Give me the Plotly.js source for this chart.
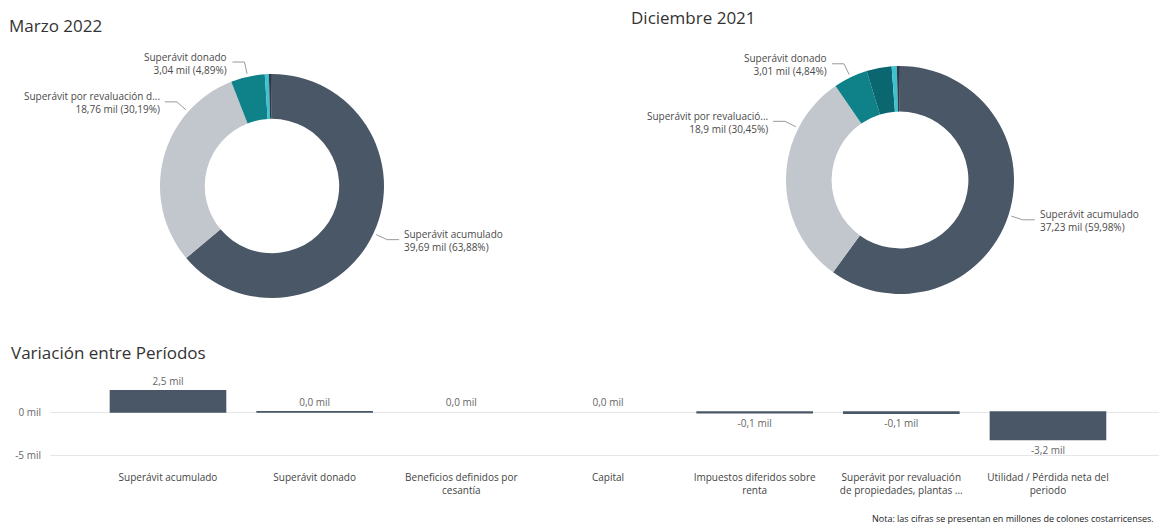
<!DOCTYPE html>
<html>
<head>
<meta charset="utf-8">
<script src="https://cdn.plot.ly/plotly-3.0.1.min.js"></script>
<style>
html,body{margin:0;padding:0;background:#ffffff;}
#chart{width:1159px;height:525px;}
</style>
</head>
<body>
<div id="chart"></div>
<script>
// ---------- DATA ----------
const categorias = [
  "Superávit acumulado",
  "Superávit donado",
  "Beneficios definidos por cesantía",
  "Capital",
  "Impuestos diferidos sobre renta",
  "Superávit por revaluación de propiedades, plantas y equipos",
  "Utilidad / Pérdida neta del periodo"
];
const ejeEtiquetas = [
  "Superávit acumulado",
  "Superávit donado",
  "Beneficios definidos por<br>cesantía",
  "Capital",
  "Impuestos diferidos sobre<br>renta",
  "Superávit por revaluación<br>de propiedades, plantas ...",
  "Utilidad / Pérdida neta del<br>periodo"
];
const marzo2022     = [39.69, 3.04, 0.08, 0.20, 0.36, 18.76, -1.00];
const diciembre2021 = [37.23, 3.006, 0.08, 0.20, 0.45, 18.90, 2.204];
const variacion     = [2.46, 0.03, 0.00, 0.00, -0.09, -0.14, -3.20];
const ejeYValores   = [0, -5];
const ejeYTextos    = ["0 mil", "-5 mil"];
const etiquetaMarzo = ["Superávit acumulado", "Superávit donado", "", "", "", "Superávit por revaluación d...", ""];
const etiquetaDic   = ["Superávit acumulado", "Superávit donado", "", "", "", "Superávit por revaluació...", ""];
const colores = ["#4A5767", "#0F8189", "#2E3A48", "#2F3947", "#3EC2D0", "#C2C7CE", "#0A6770"];

// ---------- LAYOUT HELPERS ----------
const W = 1159, H = 525;
const px = x => x / W;
const py = y => 1 - y / H;
const FONT = "Segoe UI, Open Sans, sans-serif";

function fmtNum(v) {
  let s = v.toFixed(2);
  s = s.replace(/0+$/, "").replace(/\.$/, "");
  return s.replace(".", ",");
}
function fmtPct(p) { return p.toFixed(2).replace(".", ",") + "%"; }

const shapes = [];
const annotations = [];
const traces = [];

function addDonut(values, names, cx, cy, r, fracs) {
  const idx = [];
  values.forEach((v, i) => { if (v > 0) idx.push(i); });
  const total = idx.reduce((s, i) => s + values[i], 0);
  traces.push({
    type: "pie",
    labels: idx.map(i => categorias[i]),
    values: idx.map(i => values[i]),
    marker: { colors: idx.map(i => colores[i]), line: { width: 0 } },
    hole: 0.6,
    sort: true,
    direction: "clockwise",
    rotation: 0,
    textinfo: "none",
    hoverinfo: "label+value+percent",
    showlegend: false,
    domain: { x: [px(cx - r), px(cx + r)], y: [py(cy + r), py(cy - r)] }
  });
  const order = idx.slice().sort((a, b) => values[b] - values[a]);
  let acc = 0;
  order.forEach(i => {
    const a0 = acc / total * 360;
    acc += values[i];
    const a1 = acc / total * 360;
    if (!names[i]) return;
    const f = fracs[i] !== undefined ? fracs[i] : 0.5;
    const th = (a0 + f * (a1 - a0)) * Math.PI / 180;
    const sx = Math.sin(th), sy = -Math.cos(th);
    const P = [cx + (r + 3) * sx, cy + (r + 3) * sy];
    const E = [P[0] + 12 * sx, P[1] + 12 * sy];
    const side = sx >= 0 ? 1 : -1;
    const Hx = E[0] + side * 12;
    shapes.push({
      type: "path", xref: "paper", yref: "paper",
      path: `M${px(P[0])},${py(P[1])} L${px(E[0])},${py(E[1])} L${px(Hx)},${py(E[1])}`,
      line: { color: "#9A9A9A", width: 1 }
    });
    annotations.push({
      xref: "paper", yref: "paper",
      x: px(Hx + side * 3), y: py(E[1] + 1),
      xanchor: side > 0 ? "left" : "right", yanchor: "middle",
      align: side > 0 ? "left" : "right",
      showarrow: false,
      text: names[i] + "<br>" + fmtNum(values[i]) + " mil (" + fmtPct(values[i] / total * 100) + ")",
      font: { family: FONT, size: 10, color: "#4A4A4A" }
    });
  });
}

addDonut(marzo2022, etiquetaMarzo, 272, 186, 112, { 5: 0.75 });
addDonut(diciembre2021, etiquetaDic, 900, 180, 114, { 5: 0.74 });

// ---------- BAR CHART ----------
traces.push({
  type: "bar",
  x: categorias,
  y: variacion,
  marker: {
    color: "#4A5767",
    line: { color: "#4A5767", width: variacion.map(v => v !== 0 ? 1.5 : 0) }
  },
  texttemplate: "%{y:.1f} mil",
  textposition: "outside",
  cliponaxis: false,
  textfont: { family: FONT, size: 10, color: "#666666" },
  hoverinfo: "x+y",
  showlegend: false
});

annotations.push(
  { xref: "paper", yref: "paper", x: px(7), y: py(25), xanchor: "left", yanchor: "middle",
    showarrow: false, text: "Marzo 2022", font: { family: FONT, size: 17, color: "#333333" } },
  { xref: "paper", yref: "paper", x: px(629), y: py(18), xanchor: "left", yanchor: "middle",
    showarrow: false, text: "Diciembre 2021", font: { family: FONT, size: 17, color: "#333333" } },
  { xref: "paper", yref: "paper", x: px(9), y: py(352), xanchor: "left", yanchor: "middle",
    showarrow: false, text: "Variación entre Períodos", font: { family: FONT, size: 17, color: "#333333" } },
  { xref: "paper", yref: "paper", x: px(1156), y: py(518), xanchor: "right", yanchor: "middle",
    showarrow: false, text: "Nota: las cifras se presentan en millones de colones costarricenses.",
    font: { family: FONT, size: 9, color: "#222222" } }
);

const layout = {
  width: W, height: H,
  margin: { l: 0, r: 0, t: 0, b: 0 },
  paper_bgcolor: "#ffffff",
  plot_bgcolor: "#ffffff",
  separators: ",.",
  font: { family: FONT, color: "#444444" },
  showlegend: false,
  bargap: 0.215,
  xaxis: {
    domain: [px(50), 1],
    type: "category",
    categoryorder: "array",
    categoryarray: categorias,
    tickvals: categorias,
    ticktext: ejeEtiquetas,
    range: [-0.8045, 6.757],
    showgrid: false, zeroline: false, showline: false, ticks: "",
    ticklabelstandoff: 10,
    tickfont: { family: FONT, size: 10, color: "#444444" }
  },
  yaxis: {
    domain: [py(460), py(380)],
    range: [-5.58, 3.72],
    tickvals: ejeYValores,
    ticktext: ejeYTextos,
    showgrid: true, gridcolor: "#E6E6E6", gridwidth: 1,
    zeroline: false, showline: false, ticks: "",
    ticklabelstandoff: 8,
    tickfont: { family: FONT, size: 10, color: "#666666" }
  },
  shapes: shapes,
  annotations: annotations
};

Plotly.newPlot("chart", traces, layout, { displayModeBar: false });
</script>
</body>
</html>
